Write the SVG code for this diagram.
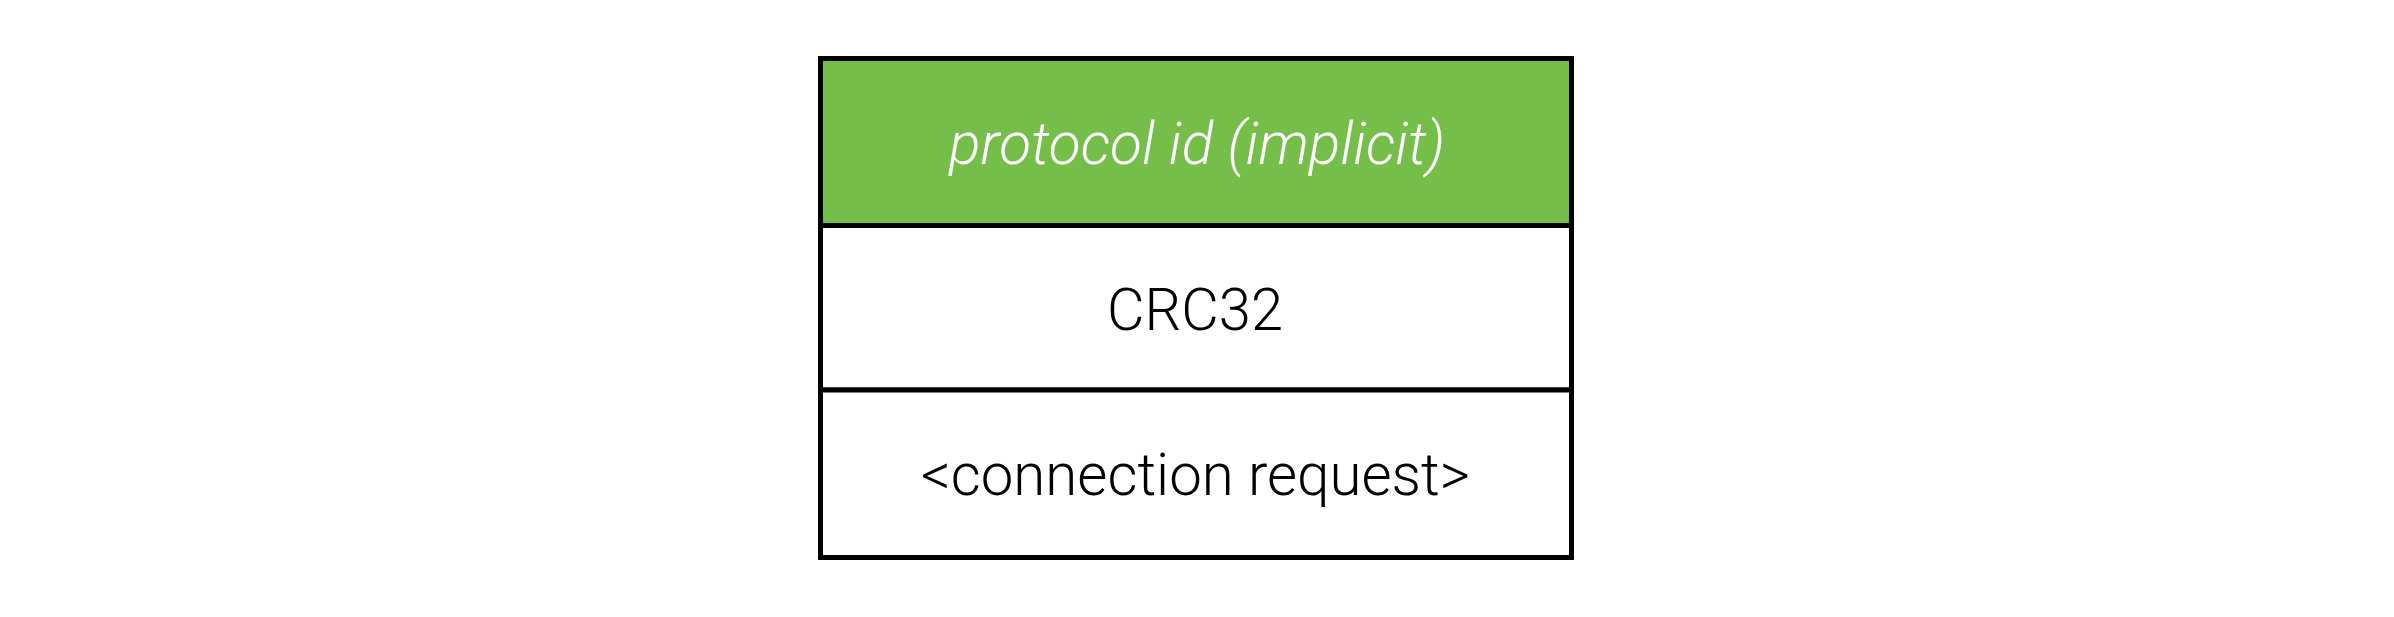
<svg xmlns="http://www.w3.org/2000/svg" width="2394" height="617" viewBox="0 0 2394 617">
  <style>
    .cell { stroke: #000; stroke-width: 5; }
    .lbl { font-family: Roboto, "Liberation Sans", Arial, sans-serif; font-weight: 300; font-size: 60px; text-anchor: middle; }
  </style>
  <rect x="0" y="0" width="2394" height="617" fill="#ffffff"/>
  <g id="node-protocol-id">
    <rect class="cell" x="820.5" y="58.5" width="751" height="167" fill="#75BE4A"/>
    <text class="lbl" x="1197" y="164" fill="#ffffff" font-style="italic" textLength="496" lengthAdjust="spacingAndGlyphs">protocol id (implicit)</text>
  </g>
  <g id="node-crc32">
    <rect class="cell" x="820.5" y="225.5" width="751" height="164.5" fill="#ffffff"/>
    <text class="lbl" x="1195" y="330" fill="#000000" textLength="176" lengthAdjust="spacingAndGlyphs">CRC32</text>
  </g>
  <g id="node-connection-request">
    <rect class="cell" x="820.5" y="390" width="751" height="167.5" fill="#ffffff"/>
    <text class="lbl" x="1195.5" y="495" fill="#000000" textLength="549" lengthAdjust="spacingAndGlyphs">&lt;connection request&gt;</text>
  </g>
  <g id="connectors"></g>
</svg>
